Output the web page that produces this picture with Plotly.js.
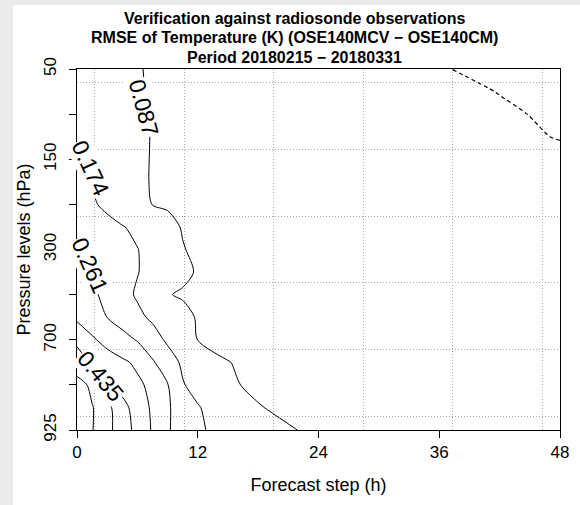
<!DOCTYPE html>
<html>
<head>
<meta charset="utf-8">
<script src="https://cdn.plot.ly/plotly-3.0.1.min.js"></script>
<style>
  html, body { margin: 0; padding: 0; background: #ebebeb; width: 580px; height: 505px; overflow: hidden; }
  #chart { position: absolute; left: 13px; top: 5px; width: 567px; height: 500px; background: #ffffff; }
</style>
</head>
<body>
<div id="chart"></div>
<script>
// ---- Data ----
// Forecast steps (h), x grid
const steps = [0, 1.5, 3, 4.5, 6, 7.5, 9, 10.5, 12, 15, 18, 21, 24, 30, 36, 42, 48];
// Pressure level index (0 = 50 hPa at top ... 8 = 925 hPa at bottom), y grid
const levelIdx = [0, 0.5, 1, 1.5, 2, 2.5, 3, 3.5, 4, 4.5, 5, 5.5, 6, 6.5, 7, 7.5, 8];
// Pressure levels (hPa) and their axis labels
const pressureLevels = [50, 100, 150, 200, 300, 500, 700, 850, 925];
const pressureTickText = ['50', '', '150', '', '300', '', '700', '', '925'];
const stepTicks = [0, 12, 24, 36, 48];

// RMSE difference (K), one row per levelIdx entry, one column per step
const rmseDiff = [
  [0.130, 0.119, 0.108, 0.098, 0.090, 0.082, 0.077, 0.071, 0.066, 0.056, 0.047, 0.040, 0.033, 0.018, 0.002, -0.008, -0.015],
  [0.140, 0.127, 0.114, 0.102, 0.091, 0.083, 0.077, 0.072, 0.068, 0.058, 0.050, 0.043, 0.036, 0.022, 0.011, -0.001, -0.012],
  [0.150, 0.136, 0.122, 0.107, 0.094, 0.084, 0.077, 0.072, 0.068, 0.060, 0.052, 0.045, 0.039, 0.027, 0.016, 0.005, -0.006],
  [0.170, 0.150, 0.130, 0.112, 0.096, 0.085, 0.078, 0.073, 0.070, 0.062, 0.054, 0.048, 0.042, 0.031, 0.021, 0.010, -0.002],
  [0.180, 0.162, 0.140, 0.118, 0.098, 0.084, 0.078, 0.074, 0.071, 0.064, 0.057, 0.051, 0.046, 0.036, 0.027, 0.018, 0.010],
  [0.190, 0.171, 0.148, 0.122, 0.100, 0.083, 0.079, 0.076, 0.073, 0.066, 0.060, 0.054, 0.049, 0.040, 0.032, 0.024, 0.017],
  [0.215, 0.185, 0.155, 0.125, 0.103, 0.086, 0.080, 0.077, 0.074, 0.068, 0.062, 0.056, 0.051, 0.043, 0.035, 0.027, 0.020],
  [0.250, 0.225, 0.200, 0.178, 0.158, 0.130, 0.105, 0.083, 0.077, 0.070, 0.064, 0.058, 0.053, 0.045, 0.037, 0.030, 0.024],
  [0.265, 0.245, 0.225, 0.200, 0.176, 0.150, 0.120, 0.090, 0.076, 0.068, 0.062, 0.057, 0.053, 0.046, 0.040, 0.034, 0.029],
  [0.280, 0.252, 0.228, 0.205, 0.177, 0.150, 0.125, 0.100, 0.082, 0.071, 0.065, 0.060, 0.056, 0.049, 0.043, 0.037, 0.032],
  [0.300, 0.275, 0.240, 0.200, 0.165, 0.120, 0.090, 0.081, 0.077, 0.071, 0.066, 0.061, 0.057, 0.050, 0.044, 0.038, 0.033],
  [0.335, 0.298, 0.260, 0.225, 0.192, 0.160, 0.130, 0.105, 0.082, 0.074, 0.068, 0.063, 0.059, 0.052, 0.046, 0.040, 0.035],
  [0.400, 0.360, 0.320, 0.290, 0.255, 0.210, 0.160, 0.120, 0.086, 0.076, 0.070, 0.065, 0.061, 0.054, 0.048, 0.043, 0.038],
  [0.515, 0.415, 0.388, 0.361, 0.334, 0.270, 0.215, 0.160, 0.130, 0.088, 0.078, 0.071, 0.066, 0.058, 0.052, 0.047, 0.043],
  [0.665, 0.580, 0.440, 0.400, 0.362, 0.330, 0.265, 0.180, 0.145, 0.092, 0.080, 0.074, 0.069, 0.061, 0.055, 0.050, 0.046],
  [0.680, 0.615, 0.545, 0.465, 0.395, 0.335, 0.270, 0.225, 0.180, 0.120, 0.089, 0.079, 0.073, 0.064, 0.058, 0.053, 0.049],
  [0.685, 0.613, 0.548, 0.475, 0.410, 0.340, 0.268, 0.230, 0.190, 0.130, 0.105, 0.090, 0.080, 0.070, 0.063, 0.058, 0.054]
];

// Contour levels
const positiveLevels = [0.087, 0.174, 0.261, 0.348, 0.435, 0.522, 0.609];
const dashedLevel = 0;
// Levels that carry a label in the reference
const labelledLevels = [0.087, 0.174, 0.261, 0.435];

// Title lines
const titleLines = [
  'Verification against radiosonde observations',
  'RMSE of Temperature (K) (OSE140MCV \u2212 OSE140CM)',
  'Period 20180215 \u2212 20180331'
];

// ---- Layout constants (label placement, styling) ----
const FONT = 'Liberation Sans, Arial, Helvetica, sans-serif';
const labelPlacement = [
  { x: 6.66, y: 0.86, angle: 75 },
  { x: 1.35, y: 2.19, angle: 65 },
  { x: 1.25, y: 4.35, angle: 66 },
  { x: 2.35, y: 6.80, angle: 50 }
];
const titleY = [1.141, 1.086, 1.033];

const step = positiveLevels[1] - positiveLevels[0];

const traces = [
  {
    type: 'scatter', x: [null], y: [null], xaxis: 'x2', yaxis: 'y2',
    showlegend: false, hoverinfo: 'skip', mode: 'markers'
  },
  {
    type: 'contour',
    x: steps, y: levelIdx, z: rmseDiff,
    autocontour: false,
    contours: {
      coloring: 'none',
      start: positiveLevels[0],
      end: positiveLevels[positiveLevels.length - 1] + step / 10,
      size: step,
      showlabels: false
    },
    line: { color: '#000000', width: 1, smoothing: 0.8 },
    showscale: false,
    hoverinfo: 'skip'
  },
  {
    type: 'contour',
    x: steps, y: levelIdx, z: rmseDiff,
    autocontour: false,
    contours: {
      coloring: 'none',
      start: dashedLevel,
      end: dashedLevel + step / 10,
      size: step,
      showlabels: false
    },
    line: { color: '#000000', width: 1.2, dash: '4px,3px', smoothing: 0.8 },
    showscale: false,
    hoverinfo: 'skip'
  }
];

const gridFractions = [0, 0.2, 0.4, 0.6, 0.8, 1];

const annotations = labelledLevels.map((lv, i) => ({
  x: labelPlacement[i].x, y: labelPlacement[i].y, xref: 'x', yref: 'y',
  text: lv.toFixed(3), showarrow: false, textangle: labelPlacement[i].angle,
  xanchor: 'center', yanchor: 'middle',
  bgcolor: '#ffffff', borderpad: 0,
  font: { family: FONT, size: 23, color: '#000000' }
})).concat(titleLines.map((t, i) => ({
  x: 0.451, y: titleY[i], xref: 'paper', yref: 'paper',
  text: '<b>' + t + '</b>', showarrow: false,
  xanchor: 'center', yanchor: 'middle',
  font: { family: FONT, size: 16, color: '#000000' }
})));

const layout = {
  width: 567, height: 500,
  margin: { l: 64, r: 20, t: 64, b: 75 },
  paper_bgcolor: '#ffffff', plot_bgcolor: '#ffffff',
  showlegend: false,
  xaxis: {
    range: [stepTicks[0], stepTicks[stepTicks.length - 1]],
    tickvals: stepTicks, ticktext: stepTicks.map(String),
    ticks: 'outside', ticklen: 7, tickcolor: '#000000', tickwidth: 1,
    showline: true, linecolor: '#000000', linewidth: 1, mirror: true,
    showgrid: false, zeroline: false,
    tickfont: { family: FONT, size: 17, color: '#000000' },
    ticklabelstandoff: 0,
    title: { text: 'Forecast step (h)', font: { family: FONT, size: 18, color: '#000000' }, standoff: 16 }
  },
  yaxis: {
    range: [levelIdx[levelIdx.length - 1], levelIdx[0]],
    tickvals: pressureLevels.map((p, i) => i), ticktext: pressureTickText,
    tickangle: -90,
    ticks: 'outside', ticklen: 7, tickcolor: '#000000', tickwidth: 1,
    showline: true, linecolor: '#000000', linewidth: 1, mirror: true,
    showgrid: false, zeroline: false,
    tickfont: { family: FONT, size: 17, color: '#000000' },
    ticklabelstandoff: 6,
    title: { text: 'Pressure levels (hPa)', font: { family: FONT, size: 18, color: '#000000' }, standoff: 5 }
  },
  xaxis2: {
    overlaying: 'x', range: [-0.04, 1.04], tickvals: gridFractions,
    showticklabels: false, ticks: '', showline: false, zeroline: false,
    showgrid: true, gridcolor: '#aaaaaa', griddash: '1px,2px', gridwidth: 1
  },
  yaxis2: {
    overlaying: 'y', range: [-0.04, 1.04], tickvals: gridFractions,
    showticklabels: false, ticks: '', showline: false, zeroline: false,
    showgrid: true, gridcolor: '#aaaaaa', griddash: '1px,2px', gridwidth: 1
  },
  annotations: annotations
};

Plotly.newPlot('chart', traces, layout, { staticPlot: true, displayModeBar: false });
</script>
</body>
</html>
